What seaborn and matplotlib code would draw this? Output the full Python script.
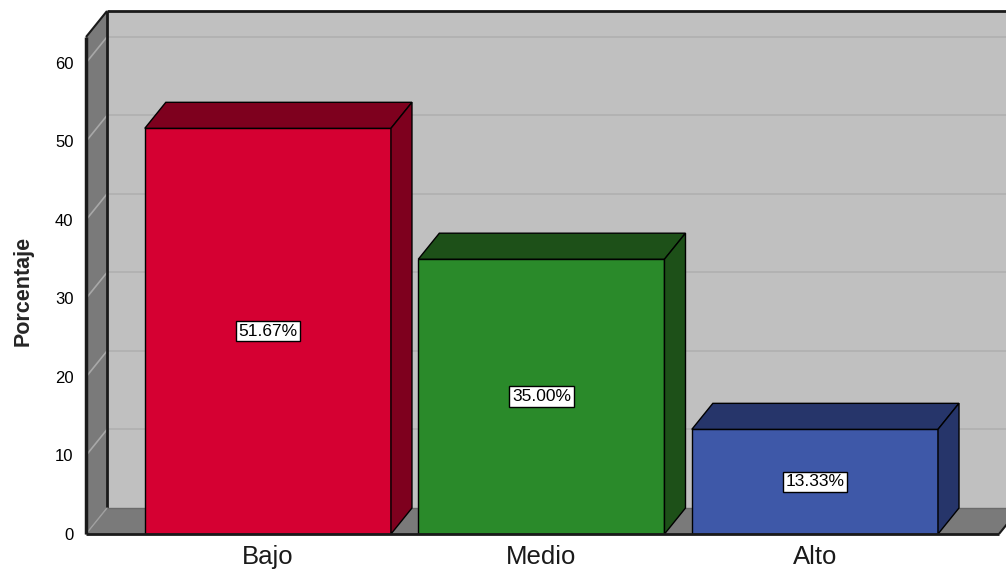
import matplotlib
matplotlib.use("Agg")
import matplotlib.pyplot as plt
from matplotlib.patches import Polygon
import seaborn as sns
import pandas as pd

# Data
categories = ["Bajo", "Medio", "Alto"]
percentages = [51.67, 35.00, 13.33]
value_labels = ["51.67%", "35.00%", "13.33%"]
y_ticks = [0, 10, 20, 30, 40, 50, 60]

front_colors = ["#D50032", "#2A8A2A", "#3E58A8"]
dark_colors = ["#7E001E", "#1D5018", "#26356A"]

sns.set_theme(style="white")
plt.rcParams["font.family"] = ["Liberation Sans", "DejaVu Sans"]

W, H = 1006, 571
fig = plt.figure(figsize=(W / 100, H / 100), dpi=100)
# front plane of the 3D box, in pixels
left_px, right_px, bottom_px, top_px = 86, 999, 534, 37
ax = fig.add_axes([left_px / W, 1 - bottom_px / H,
                   (right_px - left_px) / W, (bottom_px - top_px) / H])
ax.set_facecolor("none")

xmin, xmax = -0.665, 2.673
ymin, ymax = 0, 63.3

df = pd.DataFrame({"cat": categories, "pct": percentages})
sns.barplot(data=df, x="cat", y="pct", hue="cat", palette=front_colors,
            width=0.9, edgecolor="black", linewidth=1.0, saturation=1,
            legend=False, ax=ax, zorder=3)
ax.set_xlim(xmin, xmax)
ax.set_ylim(ymin, ymax)

# depth offset of the 3D effect, converted from pixels to data units
dx = 21 * (xmax - xmin) / (right_px - left_px)
dy = 26 * (ymax - ymin) / (bottom_px - top_px)

wall_kw = dict(clip_on=False, closed=True)
# back wall
ax.add_patch(Polygon([(xmin + dx, dy), (xmax + dx, dy), (xmax + dx, ymax + dy),
                      (xmin + dx, ymax + dy)], facecolor="#C0C0C0",
                     edgecolor="none", zorder=0.1, **wall_kw))
# left wall
ax.add_patch(Polygon([(xmin, 0), (xmin + dx, dy), (xmin + dx, ymax + dy),
                      (xmin, ymax)], facecolor="#7A7A7A", edgecolor="none",
                     zorder=0.2, **wall_kw))
# floor
ax.add_patch(Polygon([(xmin, 0), (xmax, 0), (xmax + dx, dy), (xmin + dx, dy)],
                     facecolor="#7A7A7A", edgecolor="none", zorder=0.3, **wall_kw))

# grid lines on back wall and left wall
for v in y_ticks[1:]:
    ax.plot([xmin + dx, xmax + dx], [v + dy, v + dy], color="#B0B0B0",
            lw=1.2, zorder=0.4, clip_on=False)
    ax.plot([xmin, xmin + dx], [v, v + dy], color="#A8A8A8", lw=1.2,
            zorder=0.4, clip_on=False)

# box edges
line_kw = dict(color="#1A1A1A", clip_on=False, solid_capstyle="butt")
ax.plot([xmin + dx, xmin + dx], [dy, ymax + dy], lw=2, zorder=0.5, **line_kw)
ax.plot([xmin + dx, xmax + dx], [ymax + dy, ymax + dy], lw=2, zorder=0.5, **line_kw)
ax.plot([xmin, xmin + dx], [ymax, ymax + dy], lw=1.5, zorder=0.5, **line_kw)
ax.plot([xmin + dx, xmax + dx], [dy, dy], lw=1, zorder=0.5, color="#6A6A6A", clip_on=False)
ax.plot([xmin, xmin + dx], [0, dy], lw=1, zorder=0.5, color="#A0A0A0", clip_on=False)
ax.plot([xmax, xmax + dx], [0, dy], lw=1.5, zorder=0.5, **line_kw)
ax.plot([xmin, xmin], [0, ymax], lw=2.5, zorder=5, **line_kw)
ax.plot([xmin, xmax], [0, 0], lw=2, zorder=5, **line_kw)

# 3D top and side faces derived from each bar rectangle
for patch, dark, lab in zip(ax.patches[:len(categories)], dark_colors, value_labels):
    x0 = patch.get_x()
    w = patch.get_width()
    h = patch.get_height()
    x1 = x0 + w
    ax.add_patch(Polygon([(x0, h), (x1, h), (x1 + dx, h + dy), (x0 + dx, h + dy)],
                         closed=True, facecolor=dark, edgecolor="black",
                         lw=1.0, zorder=3, clip_on=False))
    ax.add_patch(Polygon([(x1, 0), (x1 + dx, dy), (x1 + dx, h + dy), (x1, h)],
                         closed=True, facecolor=dark, edgecolor="black",
                         lw=1.0, zorder=3, clip_on=False))
    ax.text(x0 + w / 2, h / 2, lab, ha="center", va="center", fontsize=12.5,
            color="black", zorder=6,
            bbox=dict(boxstyle="square,pad=0.15", facecolor="white",
                      edgecolor="black", lw=1))

for s in ax.spines.values():
    s.set_visible(False)

ax.set_yticks(y_ticks)
ax.set_yticklabels([str(t) for t in y_ticks])
ax.tick_params(axis="y", length=0, pad=9, labelsize=12, colors="black")
ax.tick_params(axis="x", length=0, pad=8, labelsize=18.5, colors="#1A1A1A")
ax.set_xlabel("")
ax.set_ylabel("Porcentaje", fontsize=15.5, fontweight="bold")
ax.yaxis.set_label_coords(-(86 - 34) / (right_px - left_px), 0.489)

fig.savefig("out.png", dpi=100)
